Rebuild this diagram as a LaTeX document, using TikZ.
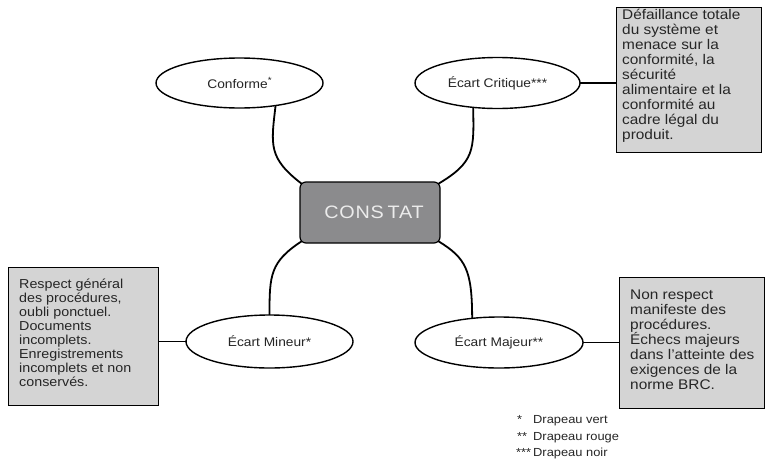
\documentclass[tikz,border=0pt]{standalone}
\usepackage{fontspec}
\setmainfont{Liberation Sans}[FakeStretch=1.1]
\usetikzlibrary{shapes.geometric,shadows,calc}
\definecolor{boxgray}{RGB}{212,212,212}
\definecolor{centergray}{RGB}{139,139,141}
\definecolor{constattxt}{RGB}{236,236,236}
\pgfdeclarelayer{bg}
\pgfsetlayers{bg,main}
\tikzset{
  oval/.style={ellipse, draw=black, line width=1.4pt, fill=white, inner sep=0pt, outer sep=0pt,
    font={\fontsize{12.5}{14}\selectfont}, text=black!85},
  infobox/.style={rectangle, draw=black, line width=0.9pt, fill=boxgray, inner sep=0pt, outer sep=0pt,
    anchor=north west, drop shadow={shadow xshift=1.3pt, shadow yshift=-1.3pt, fill=black, opacity=1}},
  boxtext/.style={anchor=north west, inner sep=0pt, align=left, text=black!85},
  centerbox/.style={rectangle, rounded corners=6pt, draw=black, line width=1.2pt, fill=centergray,
    minimum width=140pt, minimum height=61pt, inner sep=0pt, outer sep=0pt, text=constattxt,
    font={\fontsize{18}{20}\selectfont}},
  curve/.style={draw=black, line width=1.8pt},
  link/.style={draw=black, line width=1.2pt},
  legend/.style={anchor=base west, inner sep=0pt, font={\fontsize{11.7}{13}\selectfont}, text=black!85}
}
\begin{document}
\begin{tikzpicture}[x=1pt,y=-1pt]
\useasboundingbox (0,0) rectangle (767,458);

% central node
\node[centerbox] (constat) at (370,212.5) {\hspace*{8pt}\addfontfeature{LetterSpace=4}CONS\kern4pt TAT};

% ellipses
\node[oval, minimum width=167pt, minimum height=50pt] (conforme) at (239.5,83) {Conforme\raisebox{5pt}{\fontsize{9}{9}\selectfont *}};
\node[oval, minimum width=165pt, minimum height=51pt] (critique) at (497.5,83) {Écart Critique***};
\node[oval, minimum width=167pt, minimum height=53pt] (mineur) at (269.5,341.5) {Écart Mineur*};
\node[oval, minimum width=168pt, minimum height=51pt] (majeur) at (499,342.5) {Écart Majeur**};

% boxes
\node[infobox, minimum width=145pt, minimum height=145pt] (box1) at (616,7) {};
\node[infobox, minimum width=150pt, minimum height=138pt] (box2) at (8,267) {};
\node[infobox, minimum width=145pt, minimum height=131pt] (box3) at (619,277) {};

\node[boxtext, font={\fontsize{14}{15}\selectfont}] (t1) at (622,9)
  {Défaillance totale\\du système et\\menace sur la\\conformité, la\\sécurité\\alimentaire et la\\conformité au\\cadre légal du\\produit.};
\node[boxtext, font={\fontsize{13}{14}\selectfont}] (t2) at (19,278.5)
  {Respect général\\des procédures,\\oubli ponctuel.\\Documents\\incomplets.\\Enregistrements\\incomplets et non\\conservés.};
\node[boxtext, font={\fontsize{14}{15.1}\selectfont}] (t3) at (630,289.3)
  {Non respect\\manifeste des\\procédures.\\Échecs majeurs\\dans l’atteinte des\\exigences de la\\norme BRC.};

% legend
\node[legend] (l1) at (517,423) {\makebox[16pt][l]{*}Drapeau vert};
\node[legend] (l2) at (517,440) {\makebox[16pt][l]{**}Drapeau rouge};
\node[legend] (l3) at (516,456.5) {\makebox[17pt][l]{***}Drapeau noir};

% connectors
\begin{pgfonlayer}{bg}
\draw[curve] (conforme.-32) .. controls (271,145) and (268,158) .. ($(constat.north west)+(2,2)$);
\draw[curve] (critique.-135) .. controls (474,150) and (475,162) .. ($(constat.north east)+(-2,2)$);
\draw[curve] ($(constat.south west)+(2,-2)$) .. controls (270,262) and (269.5,275) .. (mineur.north);
\draw[curve] ($(constat.south east)+(-2,-2)$) .. controls (466,258) and (472,270) .. (majeur.138);
\draw[link] (critique.east) -- (critique.east -| box1.west);
\draw[link] (mineur.west) -- (mineur.west -| box2.east);
\draw[link] (majeur.east) -- (majeur.east -| box3.west);
\end{pgfonlayer}
\end{tikzpicture}
\end{document}
